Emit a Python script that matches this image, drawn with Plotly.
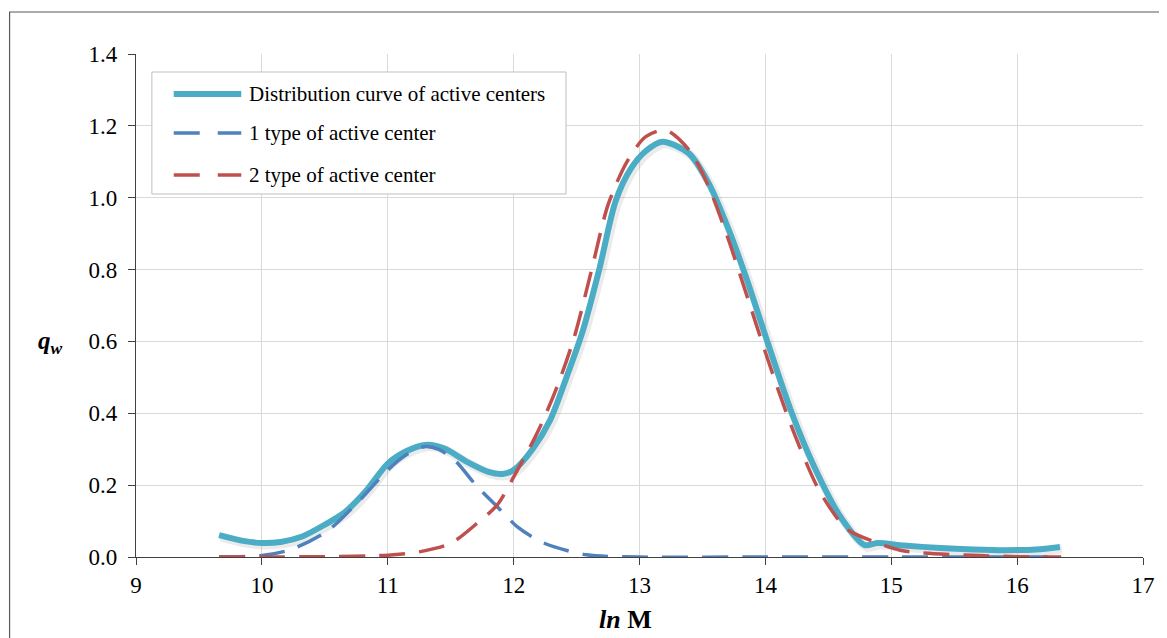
import plotly.graph_objects as go

# ---- data ----
x_total = [9.66, 9.85, 10.0, 10.15, 10.32, 10.5, 10.66, 10.83, 11.0, 11.15, 11.3, 11.45,
           11.63, 11.8, 11.91, 12.0, 12.15, 12.29, 12.42, 12.55, 12.68, 12.81, 12.93,
           13.05, 13.18, 13.39, 13.55, 13.71, 13.85, 14.02, 14.2, 14.39, 14.6, 14.79,
           14.89, 15.1, 15.39, 15.65, 15.91, 16.15, 16.34]
y_total = [0.061, 0.045, 0.039, 0.042, 0.057, 0.09, 0.125, 0.185, 0.26, 0.295, 0.312, 0.302,
           0.265, 0.237, 0.231, 0.242, 0.30, 0.381, 0.50, 0.63, 0.80, 0.99, 1.08,
           1.13, 1.156, 1.124, 1.04, 0.91, 0.775, 0.595, 0.41, 0.25, 0.11, 0.033,
           0.039, 0.032, 0.025, 0.021, 0.019, 0.021, 0.028]

x_type1 = [9.66, 10.0, 10.24, 10.53, 10.78, 11.0, 11.15, 11.29, 11.4, 11.53, 11.71, 11.87,
           12.03, 12.24, 12.58, 13.0, 14.0, 15.0, 16.0, 16.35]
y_type1 = [0.0, 0.004, 0.022, 0.075, 0.159, 0.242, 0.285, 0.307, 0.30, 0.27, 0.196, 0.14,
           0.084, 0.039, 0.006, 0.0, 0.0, 0.0, 0.0, 0.0]

x_type2 = [9.66, 10.0, 10.5, 11.0, 11.26, 11.5, 11.71, 11.87, 12.03, 12.18, 12.33, 12.48,
           12.62, 12.75, 12.9, 13.05, 13.21, 13.4, 13.55, 13.7, 13.86, 14.0, 14.2, 14.42,
           14.6, 14.68, 14.86, 15.07, 15.26, 15.7, 16.0, 16.35]
y_type2 = [0.0, 0.0, 0.001, 0.005, 0.015, 0.038, 0.094, 0.145, 0.242, 0.34, 0.46, 0.61,
           0.80, 0.98, 1.10, 1.17, 1.188, 1.13, 1.03, 0.89, 0.72, 0.57, 0.37, 0.19,
           0.095, 0.07, 0.043, 0.019, 0.011, 0.004, 0.001, 0.0]

series_names = ["Distribution curve of active centers",
                "1 type of active center",
                "2 type of active center"]
series_colors = ["#4BACC6", "#4F81BD", "#C0504D"]

x_ticks = [9, 10, 11, 12, 13, 14, 15, 16, 17]
y_ticks = [0.0, 0.2, 0.4, 0.6, 0.8, 1.0, 1.2, 1.4]

FONT = "'Liberation Serif', 'Times New Roman', Times, serif"
DASH = "26px,14px"

# page has an 8px body margin, so the figure is drawn 8px smaller / shifted
OFF = 8
W, H = 1167 - OFF, 638 - OFF
L, R, T, B = 136 - OFF, 1150 - OFF, 54 - OFF, 557 - OFF
pw, ph = R - L, B - T


def px_x(p):
    return (p - OFF - L) / pw


def px_y(p):
    return (B - (p - OFF)) / ph


# shadow offset (data units corresponding to ~2px right / 2px down)
sdx = 2 * 8 / pw
sdy = 2 * 1.4 / ph

fig = go.Figure()
fig.add_trace(go.Scatter(x=[v + sdx for v in x_total], y=[v - sdy for v in y_total], mode="lines",
                         line=dict(color="rgba(0,0,0,0.08)", width=9, shape="spline", smoothing=0.8),
                         hoverinfo="skip", showlegend=False))
fig.add_trace(go.Scatter(x=x_total, y=y_total, mode="lines", name=series_names[0],
                         line=dict(color=series_colors[0], width=6, shape="spline", smoothing=0.8),
                         showlegend=False))
fig.add_trace(go.Scatter(x=x_type1, y=y_type1, mode="lines", name=series_names[1],
                         line=dict(color=series_colors[1], width=3.5, dash=DASH, shape="spline", smoothing=0.8),
                         showlegend=False))
fig.add_trace(go.Scatter(x=x_type2, y=y_type2, mode="lines", name=series_names[2],
                         line=dict(color=series_colors[2], width=3.5, dash=DASH, shape="spline", smoothing=0.8),
                         showlegend=False))

shapes = []
annotations = []
# outer chart border
shapes.append(dict(type="rect", xref="paper", yref="paper",
                   x0=px_x(8.7), x1=px_x(1172), y0=px_y(645), y1=px_y(12),
                   line=dict(color="#595959", width=1.2), fillcolor="rgba(0,0,0,0)", layer="below"))
# manual legend box
shapes.append(dict(type="rect", xref="paper", yref="paper",
                   x0=px_x(152), x1=px_x(569), y0=px_y(194), y1=px_y(72),
                   line=dict(color="#BFBFBF", width=1), fillcolor="white", layer="above"))
legend_rows = [94, 133, 175]
for i, (nm, col) in enumerate(zip(series_names, series_colors)):
    yy = px_y(legend_rows[i])
    shapes.append(dict(type="line", xref="paper", yref="paper",
                       x0=px_x(174), x1=px_x(242), y0=yy, y1=yy, layer="above",
                       line=dict(color=col, width=6 if i == 0 else 3.5,
                                 dash="solid" if i == 0 else "26px,18px")))
    annotations.append(dict(text=nm, xref="paper", yref="paper", x=px_x(248), y=yy,
                            xanchor="left", yanchor="middle", showarrow=False,
                            font=dict(family=FONT, size=21, color="#000000")))

# axis titles
annotations.append(dict(text="<b><i>q</i></b><sub><b><i>w</i></b></sub>", xref="paper", yref="paper",
                        x=px_x(50), y=px_y(342), xanchor="center", yanchor="middle", showarrow=False,
                        font=dict(family=FONT, size=25, color="#000000")))
annotations.append(dict(text="<b><i>ln</i> M</b>", xref="paper", yref="paper",
                        x=px_x(629), y=px_y(619), xanchor="center", yanchor="middle", showarrow=False,
                        font=dict(family=FONT, size=26, color="#000000")))

fig.update_layout(
    width=W, height=H,
    margin=dict(l=L, r=W - R, t=T, b=H - B, pad=0),
    paper_bgcolor="white", plot_bgcolor="white",
    showlegend=False,
    shapes=shapes, annotations=annotations,
    font=dict(family=FONT, color="#000000"),
)
fig.update_xaxes(range=[9, 17], tickvals=x_ticks, ticktext=[str(v) for v in x_ticks],
                 showgrid=True, gridcolor="#D9D9D9", gridwidth=1.3,
                 showline=True, linecolor="#404040", linewidth=1.3,
                 ticks="outside", ticklen=7, tickcolor="#404040",
                 tickfont=dict(family=FONT, size=23, color="#000000"),
                 zeroline=False, fixedrange=True)
fig.update_yaxes(range=[0, 1.4], tickvals=y_ticks, ticktext=[f"{v:.1f}" for v in y_ticks],
                 showgrid=True, gridcolor="#D9D9D9", gridwidth=1.3,
                 showline=True, linecolor="#404040", linewidth=1.3,
                 ticks="outside", ticklen=7, tickcolor="#404040",
                 tickfont=dict(family=FONT, size=23, color="#000000"),
                 ticklabelstandoff=6,
                 zeroline=False, fixedrange=True)

fig.write_html("out.html")
